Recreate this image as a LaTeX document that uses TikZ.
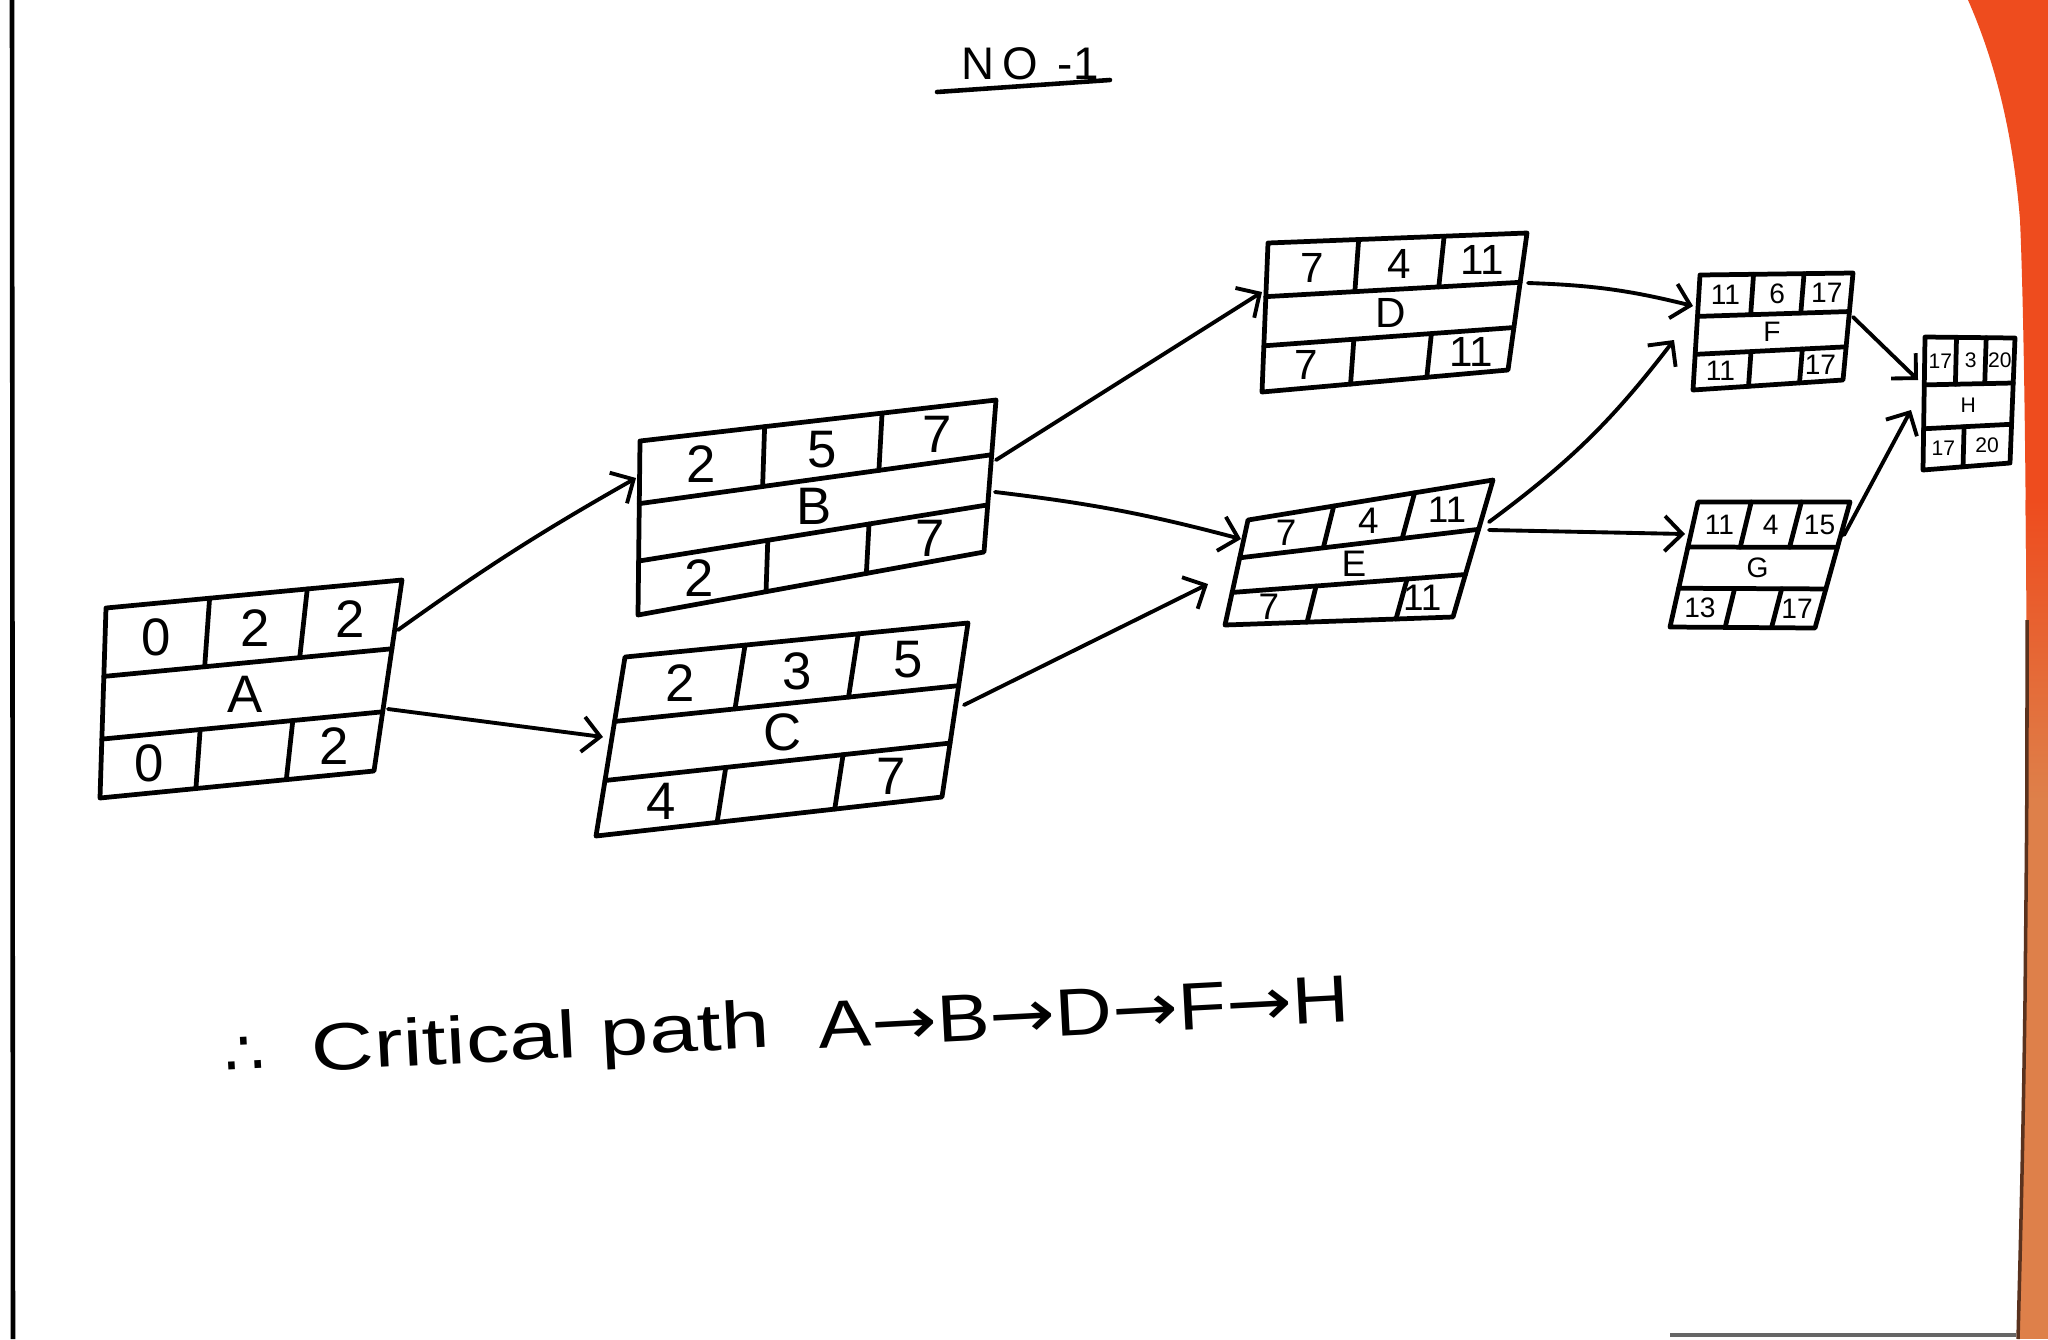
\documentclass[tikz,border=0pt]{standalone}
\usepackage{fontspec}
\setmainfont{Liberation Sans}
\newfontfamily\dejavu{DejaVu Sans}
\usetikzlibrary{calc,arrows.meta}
\definecolor{paperorange}{RGB}{238,76,30}
\definecolor{paperorangelow}{RGB}{222,128,74}
\definecolor{paperedge}{RGB}{90,50,30}
\tikzset{
  boxline/.style={line width=1.35pt, line join=round, line cap=round},
  conn/.style={line width=1.1pt, line cap=round,
    -{Straight Barb[length=5pt,width=10pt,line width=1.1pt]}},
  cell/.style={inner sep=0pt, text=black},
}
\def\cpmrowa{0.36}
\def\cpmrowb{0.69}
\def\cpmls{0.175}
\def\cpmlf{0.84}
% #1 name, #2 ES, #3 duration, #4 EF, #5 letter, #6 LS, #7 LF, #8 font size, #9 bottom dividers
\newcommand\cpmbox[9]{%
  \begin{scope}[every node/.append style={font=\fontsize{#8}{#8}\selectfont}]
  \draw[boxline] (#1-tl) -- (#1-tr) -- (#1-br) -- (#1-bl) -- cycle;
  \coordinate (#1-l1) at ($(#1-tl)!\cpmrowa!(#1-bl)$);
  \coordinate (#1-r1) at ($(#1-tr)!\cpmrowa!(#1-br)$);
  \coordinate (#1-l2) at ($(#1-tl)!\cpmrowb!(#1-bl)$);
  \coordinate (#1-r2) at ($(#1-tr)!\cpmrowb!(#1-br)$);
  \draw[boxline] (#1-l1) -- (#1-r1);
  \draw[boxline] (#1-l2) -- (#1-r2);
  \foreach \f in {0.35,0.68}
    \draw[boxline] ($(#1-tl)!\f!(#1-tr)$) -- ($(#1-l1)!\f!(#1-r1)$);
  \foreach \f in {#9}
    \draw[boxline] ($(#1-l2)!\f!(#1-r2)$) -- ($(#1-bl)!\f!(#1-br)$);
  \coordinate (#1-ta) at ($(#1-tl)!0.5!(#1-l1)$);
  \coordinate (#1-tb) at ($(#1-tr)!0.5!(#1-r1)$);
  \coordinate (#1-ma) at ($(#1-l1)!0.5!(#1-l2)$);
  \coordinate (#1-mb) at ($(#1-r1)!0.5!(#1-r2)$);
  \coordinate (#1-ba) at ($(#1-l2)!0.5!(#1-bl)$);
  \coordinate (#1-bb) at ($(#1-r2)!0.5!(#1-br)$);
  \node[cell] (#1-es)  at ($(#1-ta)!0.175!(#1-tb)$) {#2};
  \node[cell] (#1-dur) at ($(#1-ta)!0.515!(#1-tb)$) {#3};
  \node[cell] (#1-ef)  at ($(#1-ta)!0.84!(#1-tb)$) {#4};
  \node[cell] (#1)     at ($(#1-ma)!0.5!(#1-mb)$) {#5};
  \node[cell] (#1-ls)  at ($(#1-ba)!\cpmls!(#1-bb)$) {#6};
  \node[cell] (#1-lf)  at ($(#1-ba)!\cpmlf!(#1-bb)$) {#7};
  \end{scope}%
}
\begin{document}
\begin{tikzpicture}[x=0.01cm,y=-0.01cm]
  \useasboundingbox (0,0) rectangle (2048,1339);
  \fill[white] (0,0) rectangle (2048,1339);
  % paper edge and background on the right
  \begin{scope}
    \clip (1968,0) .. controls (1990,50) and (2012,120) .. (2020,220)
      .. controls (2027,380) and (2028,800) .. (2025,1000)
      .. controls (2023,1150) and (2020,1260) .. (2018,1339)
      -- (2048,1339) -- (2048,0) -- cycle;
    \fill[paperorange] (1900,0) rectangle (2048,560);
    \shade[top color=paperorange, bottom color=paperorangelow] (1900,500) rectangle (2048,800);
    \fill[paperorangelow] (1900,800) rectangle (2048,1339);
  \end{scope}
  \draw[paperedge, line width=1pt] (2027,620) .. controls (2027,800) .. (2025,1000)
      .. controls (2023,1150) and (2020,1260) .. (2018,1339);
  \draw[black, line width=1.3pt] (12,0) -- (13,1339);
  \draw[black!60, line width=1pt] (1670,1335) -- (2016,1335);

  % title
  \node[cell, font=\fontsize{13pt}{13pt}\selectfont] (title) at (1030,64) {N\,O\;\,-1};
  \coordinate (ul-a) at (937,92);
  \coordinate (ul-b) at (1110,80);
  \draw[line width=1.3pt, line cap=round] (ul-a) -- (ul-b);

  % box corners
  \coordinate (A-tl) at (106,608); \coordinate (A-tr) at (402,580);
  \coordinate (A-br) at (374,771); \coordinate (A-bl) at (100,798);
  \coordinate (B-tl) at (640,441); \coordinate (B-tr) at (996,400);
  \coordinate (B-br) at (984,552); \coordinate (B-bl) at (638,615);
  \coordinate (C-tl) at (625,657); \coordinate (C-tr) at (968,623);
  \coordinate (C-br) at (942,797); \coordinate (C-bl) at (596,836);
  \coordinate (D-tl) at (1268,243); \coordinate (D-tr) at (1527,233);
  \coordinate (D-br) at (1508,370); \coordinate (D-bl) at (1262,392);
  \coordinate (E-tl) at (1248,520); \coordinate (E-tr) at (1493,480);
  \coordinate (E-br) at (1453,617); \coordinate (E-bl) at (1225,625);
  \coordinate (F-tl) at (1700,275); \coordinate (F-tr) at (1853,273);
  \coordinate (F-br) at (1843,380); \coordinate (F-bl) at (1693,390);
  \coordinate (G-tl) at (1698,502); \coordinate (G-tr) at (1850,502);
  \coordinate (G-br) at (1815,628); \coordinate (G-bl) at (1670,627);
  \coordinate (H-tl) at (1925,337); \coordinate (H-tr) at (2015,338);
  \coordinate (H-br) at (2010,463); \coordinate (H-bl) at (1923,470);

  \cpmbox{A}{0}{2}{2}{A}{0}{2}{15pt}{0.35,0.68}
  \cpmbox{B}{2}{5}{7}{B}{2}{7}{15pt}{0.37,0.66}
  \cpmbox{C}{2}{3}{5}{C}{4}{7}{15pt}{0.35,0.69}
  \cpmbox{D}{7}{4}{11}{D}{7}{11}{12pt}{0.36,0.67}
  \cpmbox{E}{7}{4}{11}{E}{7}{11}{10.5pt}{0.36,0.75}
  \cpmbox{F}{11}{6}{17}{F}{11}{17}{8pt}{0.37,0.71}
  \cpmbox{G}{11}{4}{15}{G}{13}{17}{8pt}{0.38,0.70}
  \def\cpmls{0.23}\def\cpmlf{0.73}
  \cpmbox{H}{17}{3}{20}{H}{17}{20}{6pt}{0.46}

  % connector ends
  \coordinate (A-o1) at (398,630);  \coordinate (B-i1) at (636,478);
  \coordinate (A-o2) at (388,709);  \coordinate (C-i1) at (603,737);
  \coordinate (B-o1) at (996,460);  \coordinate (D-i1) at (1262,292);
  \coordinate (B-o2) at (995,492);  \coordinate (E-i1) at (1241,539);
  \coordinate (C-o1) at (964,705);  \coordinate (E-i2) at (1208,584);
  \coordinate (D-o1) at (1528,283); \coordinate (F-i1) at (1693,306);
  \coordinate (E-o1) at (1489,522); \coordinate (F-i2) at (1674,340);
  \coordinate (E-o2) at (1489,530); \coordinate (G-i1) at (1685,534);
  \coordinate (F-o1) at (1853,317); \coordinate (H-i1) at (1918,380);
  \coordinate (G-o1) at (1844,535); \coordinate (H-i2) at (1911,410);

  \draw[conn] (A-o1) to[bend left=3] (B-i1);
  \draw[conn] (A-o2) -- (C-i1);
  \draw[conn] (B-o1) -- (D-i1);
  \draw[conn] (B-o2) to[bend left=4] (E-i1);
  \draw[conn] (C-o1) -- (E-i2);
  \draw[conn] (D-o1) to[bend left=6] (F-i1);
  \draw[conn] (E-o1) to[bend right=8] (F-i2);
  \draw[conn] (E-o2) -- (G-i1);
  \draw[conn] (F-o1) -- (H-i1);
  \draw[conn] (G-o1) -- (H-i2);

  % conclusion
  \node[cell, rotate=3, font=\dejavu\fontsize{18pt}{18pt}\selectfont] (therefore) at (245,1056) {∴};
  \node[cell, rotate=3, font=\fontsize{19pt}{19pt}\selectfont] (crit) at (541,1042)
    {\scalebox{1.3}[1]{Critical path}};
  \node[cell, rotate=3, font=\fontsize{19pt}{19pt}\selectfont] (cpath) at (1084,1012)
    {\scalebox{1.18}[1]{A{\dejavu →}B{\dejavu →}D{\dejavu →}F{\dejavu →}H}};
\end{tikzpicture}
\end{document}
